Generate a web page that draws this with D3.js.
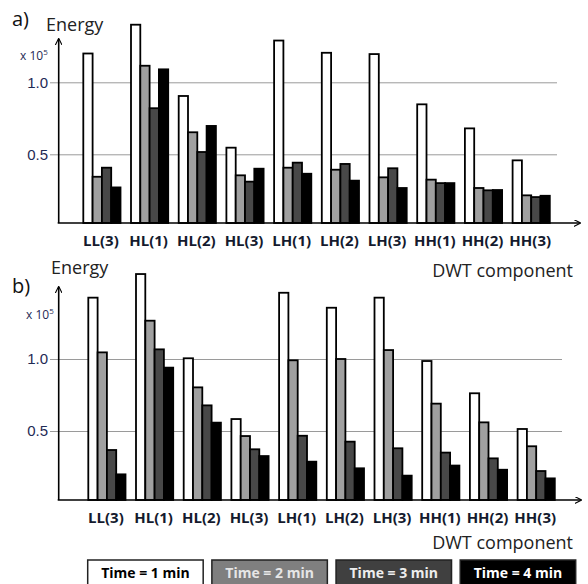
<!DOCTYPE html>
<html>
<head>
<meta charset="utf-8">
<script src="https://cdn.jsdelivr.net/npm/d3@7"></script>
<style>
  body { margin: 0; background: #fff; }
  svg { display: block; font-family: "Open Sans", "DejaVu Sans", sans-serif; }
  .bar { stroke: #000; stroke-width: 1.8; }
  .grid line { stroke: #9a9a9a; stroke-width: 1; }
  .grid path { display: none; }
  .ticks path, .ticks line { display: none; }
  .ticks text { font-size: 15px; fill: #1f2a55; }
  .cat { font-size: 15px; font-weight: bold; fill: #141a2e; }
  .axis-title { font-size: 18px; fill: #222; }
  .panel-label { font-size: 20px; fill: #111; }
  .legend-text { font-size: 14px; font-weight: bold; }
</style>
</head>
<body>
<script>
// ============================================================
// DWT component energy, two panels (a, b), four time steps
// values in units of 1e5
// ============================================================

var categories = ["LL(3)", "HL(1)", "HL(2)", "HL(3)", "LH(1)", "LH(2)", "LH(3)", "HH(1)", "HH(2)", "HH(3)"];
var seriesNames = ["Time = 1 min", "Time = 2 min", "Time = 3 min", "Time = 4 min"];
var yTicks = [0.5, 1.0];

// panel a)
var a_t1 = [1.20, 1.40, 0.905, 0.546, 1.29, 1.205, 1.196, 0.847, 0.68, 0.458];
var a_t2 = [0.344, 1.115, 0.653, 0.354, 0.407, 0.393, 0.34, 0.324, 0.266, 0.215];
var a_t3 = [0.407, 0.82, 0.516, 0.31, 0.442, 0.433, 0.403, 0.30, 0.25, 0.203];
var a_t4 = [0.27, 1.09, 0.697, 0.40, 0.365, 0.317, 0.266, 0.30, 0.252, 0.212];

// panel b)
var b_t1 = [1.426, 1.59, 1.005, 0.583, 1.46, 1.356, 1.426, 0.986, 0.762, 0.514];
var b_t2 = [1.046, 1.266, 0.803, 0.465, 0.991, 1.0, 1.062, 0.69, 0.56, 0.394];
var b_t3 = [0.368, 1.067, 0.678, 0.373, 0.467, 0.426, 0.38, 0.35, 0.31, 0.222];
var b_t4 = [0.199, 0.94, 0.558, 0.326, 0.287, 0.241, 0.19, 0.26, 0.231, 0.171];

var barColors = ["#ffffff", "#a0a0a0", "#484848", "#000000"];
var legendFill = ["#ffffff", "#7f7f7f", "#404040", "#000000"];
var legendText = ["#000000", "#e6e6e6", "#ededed", "#ffffff"];

var w = 588, h = 584;

var svg = d3.select("body").append("svg")
    .attr("width", w)
    .attr("height", h);

var defs = svg.append("defs");
defs.append("marker")
    .attr("id", "arrow")
    .attr("viewBox", "0 0 10 10")
    .attr("refX", 9)
    .attr("refY", 5)
    .attr("markerWidth", 7)
    .attr("markerHeight", 7)
    .attr("markerUnits", "userSpaceOnUse")
    .attr("orient", "auto")
    .append("path")
    .attr("d", "M0,0 L10,5 L0,10")
    .attr("fill", "none")
    .attr("stroke", "#000")
    .attr("stroke-width", 1.6);

var step = 47.7;

function drawPanel(p) {
    var series = [p.t1, p.t2, p.t3, p.t4];
    var axisX = 58.7;

    var x = d3.scaleBand()
        .domain(categories)
        .range([p.firstBar - 0.11 * step, p.firstBar - 0.11 * step + step * 10])
        .paddingInner(0.22)
        .paddingOuter(0.11);

    var xs = d3.scaleBand()
        .domain(d3.range(4))
        .range([0, x.bandwidth()]);

    // linear scale pinned to the two gridlines
    var y = d3.scaleLinear()
        .domain([0.5, 1.0])
        .range([p.y05, p.y10]);

    // gridlines
    svg.append("g")
        .attr("class", "grid")
        .attr("transform", "translate(" + p.gridEnd + ",0)")
        .call(d3.axisLeft(y).tickValues(yTicks).tickSize(p.gridEnd - 50).tickFormat(""));

    // tick labels
    svg.append("g")
        .attr("class", "ticks")
        .attr("transform", "translate(50,0)")
        .call(d3.axisLeft(y).tickValues(yTicks).tickSize(0).tickPadding(2).tickFormat(d3.format(".1f")));

    // bars
    for (var s = 0; s < 4; s++) {
        svg.append("g").selectAll("rect")
            .data(categories)
            .join("rect")
            .attr("class", "bar")
            .attr("fill", barColors[s])
            .attr("x", function(d) { return x(d) + xs(s); })
            .attr("width", xs.bandwidth())
            .attr("y", function(d, i) { return y(series[s][i]); })
            .attr("height", function(d, i) { return p.axisY - y(series[s][i]); });
    }

    // axes with arrows
    svg.append("line")
        .attr("x1", axisX).attr("y1", p.axisY)
        .attr("x2", axisX).attr("y2", p.arrowTop)
        .attr("stroke", "#000").attr("stroke-width", 1.6)
        .attr("marker-end", "url(#arrow)");

    svg.append("line")
        .attr("x1", axisX - 1).attr("y1", p.axisY)
        .attr("x2", p.arrowRight).attr("y2", p.axisY)
        .attr("stroke", "#000").attr("stroke-width", 1.6)
        .attr("marker-end", "url(#arrow)");

    // category labels
    svg.append("g").selectAll("text")
        .data(categories)
        .join("text")
        .attr("class", "cat")
        .attr("x", function(d) { return x(d) + x.bandwidth() / 2 - 1; })
        .attr("y", p.catY)
        .attr("text-anchor", "middle")
        .text(function(d) { return d; });

    // titles
    svg.append("text")
        .attr("class", "panel-label")
        .attr("x", 12)
        .attr("y", p.labelY)
        .text(p.label);

    svg.append("text")
        .attr("class", "axis-title")
        .attr("x", p.energyX)
        .attr("y", p.energyY)
        .text("Energy");

    var sc = svg.append("text")
        .attr("x", p.scaleX)
        .attr("y", p.scaleY)
        .attr("font-size", 12)
        .attr("fill", "#1f2a55");
    sc.append("tspan").text("x 10");
    sc.append("tspan").attr("font-size", 8).attr("dy", -5).text("5");

    svg.append("text")
        .attr("class", "axis-title")
        .attr("x", 573)
        .attr("y", p.dwtY)
        .attr("text-anchor", "end")
        .text("DWT component");
}

drawPanel({
    t1: a_t1, t2: a_t2, t3: a_t3, t4: a_t4,
    label: "a)", labelY: 26,
    axisY: 223, y05: 154.3, y10: 82.3,
    arrowTop: 39, arrowRight: 580, gridEnd: 557,
    firstBar: 83.3, catY: 246,
    energyX: 46, energyY: 31, scaleX: 20, scaleY: 60,
    dwtY: 277
});

drawPanel({
    t1: b_t1, t2: b_t2, t3: b_t3, t4: b_t4,
    label: "b)", labelY: 293,
    axisY: 500, y05: 431, y10: 359,
    arrowTop: 287, arrowRight: 581, gridEnd: 562,
    firstBar: 88.3, catY: 523,
    energyX: 51, energyY: 274, scaleX: 26, scaleY: 319,
    dwtY: 549
});

// Legend
var lx = d3.scaleBand()
    .domain(seriesNames)
    .range([87.7, 87.7 + 122 * 4])
    .paddingInner(0.07)
    .paddingOuter(0);

var lg = svg.append("g").selectAll("g")
    .data(seriesNames)
    .join("g")
    .attr("transform", function(d) { return "translate(" + lx(d) + ",560)"; });

lg.append("rect")
    .attr("width", lx.bandwidth())
    .attr("height", 30)
    .attr("fill", function(d, i) { return legendFill[i]; })
    .attr("stroke", "#222")
    .attr("stroke-width", 1.5);

lg.append("text")
    .attr("class", "legend-text")
    .attr("x", lx.bandwidth() / 2)
    .attr("y", 18)
    .attr("text-anchor", "middle")
    .attr("fill", function(d, i) { return legendText[i]; })
    .text(function(d) { return d; });
</script>
</body>
</html>
